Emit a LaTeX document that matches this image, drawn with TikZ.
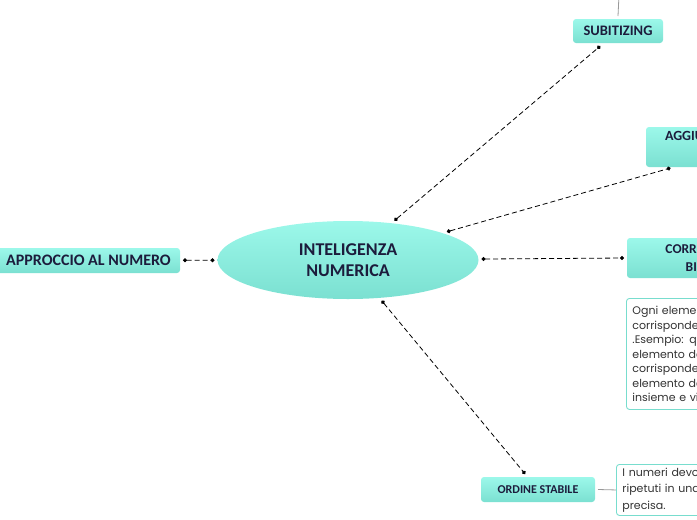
\documentclass[tikz,border=0pt]{standalone}
\usepackage{fontspec}
\setmainfont{Carlito}
\newfontfamily\notefont{Poppins}
\usetikzlibrary{shapes.geometric,arrows.meta}

\definecolor{aquatop}{HTML}{9CF8EA}
\definecolor{aquabot}{HTML}{7BE0D1}
\definecolor{inkblue}{HTML}{1C1C3C}
\definecolor{noteline}{HTML}{78DDCE}

\tikzset{
  titlebox/.style={rectangle, rounded corners=3pt, top color=aquatop, bottom color=aquabot,
    draw=none, text=inkblue, font=\bfseries\fontsize{14.5}{17}\selectfont,
    inner xsep=8pt, inner ysep=4pt, align=center, outer sep=3pt},
  notebox/.style={rectangle, rounded corners=3pt, draw=noteline, line width=0.9pt, fill=white,
    text=black!80, font=\notefont\fontsize{11}{14.5}\selectfont,
    align=left, anchor=north west, inner xsep=6pt, inner ysep=4pt},
  linkline/.style={draw=black, line width=0.8pt, dash pattern=on 5pt off 3pt,
    {Circle[length=4pt]}-{Circle[length=4pt]}},
  plainline/.style={draw=black!40, line width=0.8pt}
}

\begin{document}
\begin{tikzpicture}[x=1pt, y=-1pt]
  \clip (0,0) rectangle (697,520);
  \useasboundingbox (0,0) rectangle (697,520);

  % centro
  \node[ellipse, minimum width=261pt, minimum height=78pt, inner sep=0pt, outer sep=3pt,
    top color=aquatop, bottom color=aquabot, text=inkblue,
    font=\bfseries\fontsize{18}{20.5}\selectfont, align=center]
    (centro) at (348,260) {INTELIGENZA\\NUMERICA};

  % rami
  \node[titlebox, minimum width=90pt, minimum height=24pt] (subitizing) at (618,31) {SUBITIZING};
  \node[titlebox, anchor=north west, text width=158pt, minimum height=40pt, inner xsep=19pt,
    text depth=22pt, align=left, outer sep=1pt, font=\bfseries\fontsize{14}{17}\selectfont]
    (aggiungere) at (645,126) {AGGIUNGERE};
  \node[titlebox, anchor=west, minimum width=182pt, minimum height=40pt,
    font=\bfseries\fontsize{13.5}{17.5}\selectfont] (corrisp) at (624,258)
    {CORRISPONDENZA\\BIUNIVOCA};
  \node[titlebox, minimum width=114pt, minimum height=25pt,
    font=\bfseries\fontsize{12}{15}\selectfont] (ordine) at (538,489.5) {ORDINE STABILE};
  \node[titlebox, anchor=east, minimum width=183pt, minimum height=25pt,
    font=\bfseries\fontsize{16}{18}\selectfont] (approccio) at (183,260.5) {APPROCCIO AL NUMERO};

  % note
  \node[notebox, minimum height=111pt, text width=200pt] (notacorr) at (626,298)
    {Ogni elemento di un insieme\\
     corrisponde ad un solo\\
     .Esempio: quando conto\\
     elemento dell'insieme\\
     corrisponde ad un numero\\
     elemento dell'altro\\
     insieme e viceversa.};
  \node[notebox, minimum height=51pt, text width=200pt, inner ysep=3pt,
    font=\notefont\fontsize{11}{16.5}\selectfont] (notaordine) at (616,464)
    {I numeri devono essere\\
     ripetuti in una sequenza\\
     precisa.};

  \coordinate (cima) at (619,-5);

  % collegamenti
  \draw[linkline] (centro) -- (subitizing);
  \draw[linkline] (centro) -- (aggiungere);
  \draw[linkline] (centro) -- (corrisp.west);
  \draw[linkline] (centro) -- (ordine);
  \draw[linkline] (approccio) -- (centro);
  \draw[plainline] (ordine.east) -- (notaordine.west);
  \draw[plainline] (subitizing.north) -- (cima);
\end{tikzpicture}
\end{document}
